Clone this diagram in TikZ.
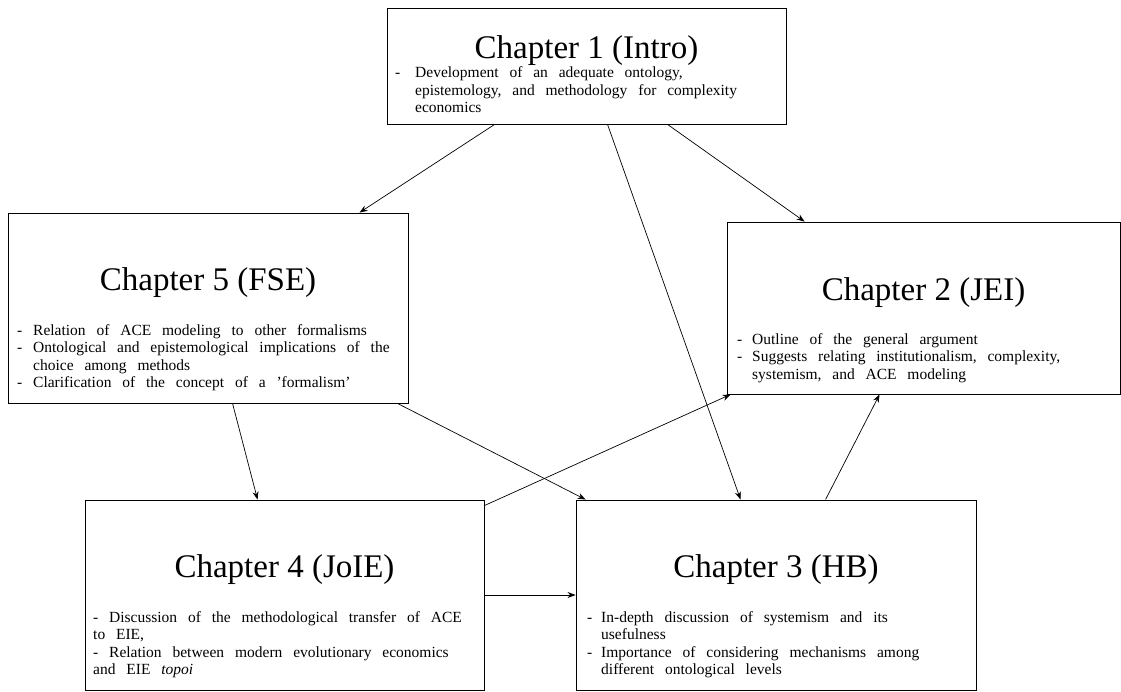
\documentclass[tikz,border=0pt]{standalone}
\usepackage{fontspec}
\setmainfont{Liberation Serif}
\usetikzlibrary{arrows.meta}
\newcommand{\bodyset}{\spaceskip=0.7em plus 0.1em minus 0.05em\xspaceskip=0.7em plus 0.1em\relax\rightskip=0pt plus 1fil\relax\hyphenpenalty=10000\exhyphenpenalty=10000\relax}
\newcommand{\itm}[2]{\hangindent=#1\hangafter=1\noindent\makebox[#1][l]{-}#2\par}
\newcommand{\plainitm}[1]{\noindent -\ #1\par}
\begin{document}
\begin{tikzpicture}[x=1pt,y=-1pt,
  box/.style={draw, line width=0.9pt, rectangle, inner sep=0pt},
  ttl/.style={anchor=base, inner sep=0pt, font=\fontsize{33pt}{39pt}\selectfont},
  bodytxt/.style={anchor=base west, inner sep=0pt, font=\fontsize{15.5pt}{17.5pt}\selectfont, align=left},
  conn/.style={line width=0.7pt, -{Stealth[length=8pt,width=6pt]}}]
\useasboundingbox (0,0) rectangle (1121,691);

% boxes
\node[box, minimum width=399pt, minimum height=116pt] (intro) at (586.5,66) {};
\node[box, minimum width=400pt, minimum height=190pt] (fse) at (208,308) {};
\node[box, minimum width=393pt, minimum height=172pt] (jei) at (923.5,308) {};
\node[box, minimum width=399pt, minimum height=190pt] (joie) at (284.5,595) {};
\node[box, minimum width=400pt, minimum height=190pt] (hb) at (776,595) {};

% titles
\node[ttl] (t1) at (586.5,58) {Chapter 1 (Intro)};
\node[ttl] (t5) at (208,290) {Chapter 5 (FSE)};
\node[ttl] (t2) at (923.5,300) {Chapter 2 (JEI)};
\node[ttl] (t4) at (284.5,577) {Chapter 4 (JoIE)};
\node[ttl] (t3) at (776,577) {Chapter 3 (HB)};

% bodies
\node[bodytxt, text width=365pt] (b1) at (395,77.5) {\bodyset
\itm{20pt}{Development of an adequate ontology, epistemology, and methodology for complexity economics}};
\node[bodytxt, text width=401pt] (b5) at (17,335) {\bodyset
\itm{16pt}{Relation of ACE modeling to other formalisms}%
\itm{16pt}{Ontological and epistemological implications of the choice among methods}%
\itm{16pt}{Clarification of the concept of a 'formalism'}};
\node[bodytxt, text width=345pt] (b2) at (737,344) {\bodyset
\itm{15pt}{Outline of the general argument}%
\itm{15pt}{Suggests relating institutionalism, complexity, systemism, and ACE modeling}};
\node[bodytxt, text width=376pt] (b4) at (93,622) {\bodyset
\plainitm{Discussion of the methodological transfer of ACE to EIE,}%
\plainitm{Relation between modern evolutionary economics and EIE \textit{topoi}}};
\node[bodytxt, text width=359pt] (b3) at (587,622) {\bodyset
\itm{14pt}{In-depth discussion of systemism and its usefulness}%
\itm{14pt}{Importance of considering mechanisms among different ontological levels}};

% connectors
\draw[conn] ([xshift=108pt]intro.south west) -- ([xshift=352pt]fse.north west);
\draw[conn] ([xshift=281pt]intro.south west) -- ([xshift=78pt]jei.north west);
\draw[conn] ([xshift=221pt]intro.south west) -- ([xshift=165pt]hb.north west);
\draw[conn] ([xshift=225pt]fse.south west) -- ([xshift=173pt]joie.north west);
\draw[conn] ([xshift=390pt]fse.south west) -- ([xshift=10pt]hb.north west);
\draw[conn] ([yshift=-6pt]joie.north east) -- ([xshift=4pt]jei.south west);
\draw[conn] (joie.east) -- (hb.west);
\draw[conn] ([xshift=250pt]hb.north west) -- ([xshift=153pt]jei.south west);
\end{tikzpicture}
\end{document}
